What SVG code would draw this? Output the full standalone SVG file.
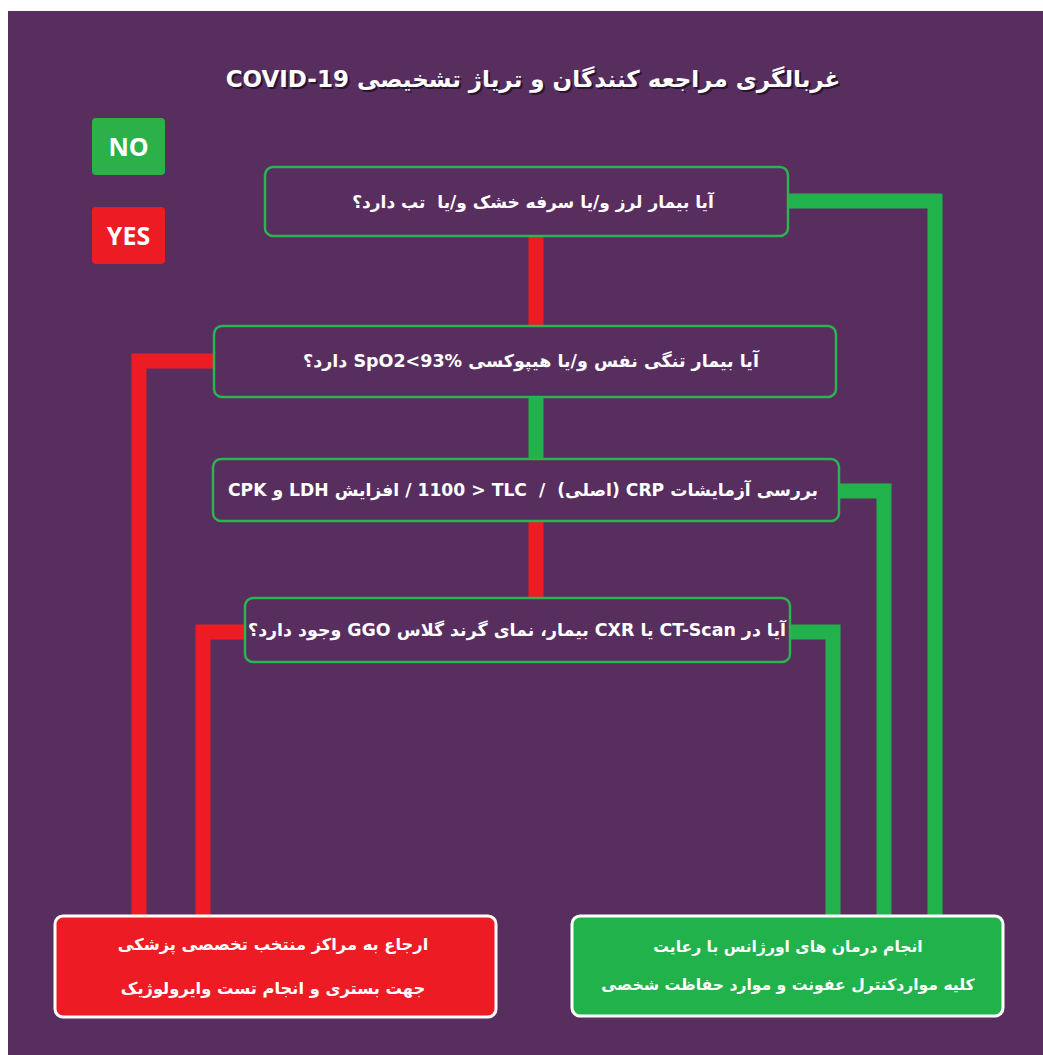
<svg xmlns="http://www.w3.org/2000/svg" width="1043" height="1055" viewBox="0 0 1043 1055">
<style>
  .bg{fill:#582e5f}
  .q{fill:#582e5f;stroke:#2bb44f;stroke-width:2.5}
  .t{font-family:"DejaVu Sans",sans-serif;font-weight:bold;fill:#ffffff;text-anchor:middle;direction:rtl;white-space:pre}
  .sh{fill:#2a1530}
  .y{fill:none;stroke:#ed1c24;stroke-width:15;stroke-linejoin:miter}
  .n{fill:none;stroke:#22b24c;stroke-width:15;stroke-linejoin:miter}
  .leg{font-family:"Open Sans","DejaVu Sans",sans-serif;font-weight:bold;fill:#ffffff;text-anchor:middle;font-size:25px}
</style>
<rect width="1043" height="1055" fill="#ffffff"/>
<rect class="bg" x="8" y="11" width="1035" height="1044"/>

<g id="title">
  <text class="t sh" x="533" y="87" font-size="23" dx="2" dy="2">غربالگری مراجعه کنندگان و تریاژ تشخیصی COVID-19</text>
  <text class="t" x="533" y="87" font-size="23">غربالگری مراجعه کنندگان و تریاژ تشخیصی COVID-19</text>
</g>

<g id="legend-no">
  <rect x="92" y="118" width="73" height="57" rx="4" fill="#2bb04a"/>
  <text class="leg" x="128.5" y="156">NO</text>
</g>
<g id="legend-yes">
  <rect x="92" y="207" width="73" height="57" rx="4" fill="#ed1c24"/>
  <text class="leg" x="128.5" y="245">YES</text>
</g>

<g id="connectors">
  <polyline class="y" points="536,236 536,326"/>
  <polyline class="n" points="788,201 935,201 935,916"/>
  <polyline class="y" points="214,361 139,361 139,916"/>
  <polyline class="n" points="536,397 536,459"/>
  <polyline class="n" points="839,491 884,491 884,916"/>
  <polyline class="y" points="536,521 536,598"/>
  <polyline class="y" points="245,632 203,632 203,916"/>
  <polyline class="n" points="790,632 833,632 833,916"/>
</g>

<g id="q1">
  <rect class="q" x="265" y="167" width="523" height="69" rx="8"/>
  <text class="t" x="533" y="208" font-size="17">آیا بیمار لرز و/یا سرفه خشک و/یا  تب دارد؟</text>
</g>
<g id="q2">
  <rect class="q" x="214" y="326" width="622" height="71" rx="8"/>
  <text class="t" x="531" y="367" font-size="17.5">آیا بیمار تنگی نفس و/یا هیپوکسی SpO2&lt;93% دارد؟</text>
</g>
<g id="q3">
  <rect class="q" x="213" y="459" width="626" height="62" rx="8"/>
  <text class="t" x="523" y="496" font-size="17.2">بررسی آزمایشات CRP (اصلی)  /  TLC&#x200F; &lt; 1100 / افزایش LDH و CPK</text>
</g>
<g id="q4">
  <rect class="q" x="245" y="598" width="545" height="64" rx="8"/>
  <text class="t" x="517" y="636" font-size="17.4">آیا در CT-Scan یا CXR بیمار، نمای گرند گلاس GGO وجود دارد؟</text>
</g>

<g id="yes-result">
  <rect x="55" y="916" width="441" height="101" rx="8" fill="#ed1c24" stroke="#ffffff" stroke-width="3"/>
  <text class="t" x="273" y="950" font-size="16.3">ارجاع به مراکز منتخب تخصصی پزشکی</text>
  <text class="t" x="273" y="994" font-size="16.3">جهت بستری و انجام تست وایرولوژیک</text>
</g>
<g id="no-result">
  <rect x="572" y="916" width="431" height="100" rx="8" fill="#22b24c" stroke="#ffffff" stroke-width="3"/>
  <text class="t" x="788" y="952" font-size="15.6">انجام درمان های اورژانس با رعایت</text>
  <text class="t" x="788" y="990" font-size="15.6">کلیه مواردکنترل عفونت و موارد حفاظت شخصی</text>
</g>
</svg>
